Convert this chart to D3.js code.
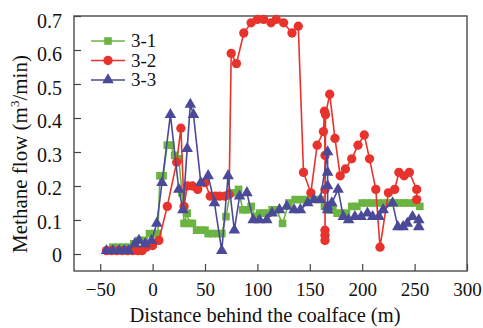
<!DOCTYPE html>
<html>
<head>
<meta charset="utf-8">
<script src="https://cdn.jsdelivr.net/npm/d3@7"></script>
<style>
  body { margin: 0; background: #fff; }
  svg, svg text { font-family: "Liberation Serif", "DejaVu Serif", serif; }
</style>
</head>
<body>
<div id="chart"></div>
<script>
// series: [distance (m), methane flow (m3/min)]
const s31 = [[-42,0.01],[-38,0.02],[-33,0.02],[-28,0.02],[-23,0.02],[-18,0.03],[-13,0.04],[-8,0.04],[-3,0.06],[2,0.06],[5,0.06],
  [7,0.23],[10,0.23],[14,0.32],[17,0.32],[21,0.29],[25,0.28],[28,0.18],[30,0.09],[33,0.12],[35,0.09],[38,0.09],[42,0.07],[46,0.07],
  [50,0.07],[53,0.06],[57,0.06],[62,0.06],[66,0.06],[70,0.11],[74,0.18],[78,0.18],[82,0.19],[86,0.13],[90,0.13],[94,0.14],[98,0.11],
  [102,0.12],[106,0.12],[110,0.12],[114,0.13],[118,0.13],[124,0.09],[130,0.15],[136,0.16],[142,0.16],[148,0.16],[154,0.16],[160,0.16],
  [164,0.14],[168,0.13],[172,0.13],[176,0.12],[180,0.12],[185,0.12],[190,0.14],[195,0.14],[200,0.15],[205,0.15],[210,0.15],[215,0.15],
  [220,0.15],[225,0.15],[230,0.15],[235,0.15],[240,0.15],[245,0.15],[250,0.15],[255,0.14]];
const s32 = [[-44,0.01],[-39,0.01],[-34,0.01],[-29,0.01],[-24,0.01],[-19,0.01],[-14,0.01],[-10,0.01],[-6,0.02],[0,0.025],[6,0.04],
  [14,0.14],[23,0.27],[27,0.37],[30,0.14],[33,0.20],[38,0.20],[43,0.19],[50,0.21],[55,0.17],[60,0.17],[64,0.17],[69,0.17],[73,0.175],
  [75,0.59],[80,0.56],[87,0.65],[94,0.68],[100,0.69],[106,0.69],[113,0.68],[118,0.69],[125,0.68],[133,0.65],[139,0.67],
  [144,0.24],[151,0.18],[157,0.32],[163,0.36],[164,0.42],[164.5,0.29],[164.5,0.19],[164.5,0.07],[164.5,0.055],[164.5,0.04],[165,0.41],
  [169,0.47],[174,0.34],[179,0.23],[184,0.25],[190,0.28],[196,0.32],[202,0.35],[207,0.28],[213,0.19],[217,0.02],[225,0.18],[231,0.19],
  [235,0.24],[240,0.23],[245,0.24],[252,0.19],[252,0.16]];
const s33 = [[-44,0.01],[-38,0.01],[-32,0.01],[-27,0.01],[-23,0.01],[-17,0.03],[-13,0.04],[-7,0.03],[-1,0.04],[4,0.09],[9,0.21],
  [17,0.41],[25,0.19],[29,0.13],[33,0.31],[36,0.44],[39,0.41],[46,0.21],[53,0.23],[59,0.15],[66,0.01],[72,0.23],[78,0.07],[83,0.17],
  [90,0.18],[96,0.10],[102,0.10],[109,0.10],[114,0.12],[121,0.13],[128,0.14],[135,0.13],[141,0.13],[148,0.15],[154,0.16],[160,0.16],
  [167,0.30],[167,0.24],[167,0.20],[167,0.14],[167,0.13],[171,0.15],[177,0.19],[182,0.11],[187,0.10],[193,0.11],[199,0.11],[205,0.12],
  [210,0.11],[216,0.11],[220,0.13],[229,0.15],[234,0.08],[239,0.08],[243,0.09],[248,0.11],[254,0.10],[254,0.08]];

const seriesNames = ["3-1", "3-2", "3-3"];
const seriesColors = ["#6cb442", "#e8332c", "#4a4a98"];
const seriesShapes = [d3.symbolSquare, d3.symbolCircle, d3.symbolTriangle];
const xTicks = [-50, 0, 50, 100, 150, 200, 250, 300];
const yTicks = [0, 0.1, 0.2, 0.3, 0.4, 0.5, 0.6, 0.7];

const W = 483, H = 328;
const margin = {left: 74, top: 16, right: 16, bottom: 57};
const iw = W - margin.left - margin.right, ih = H - margin.top - margin.bottom;
const FONT = "Liberation Serif";

const svg = d3.select("#chart").append("svg").attr("width", W).attr("height", H)
  .attr("font-family", FONT);
const g = svg.append("g").attr("transform", "translate(" + margin.left + "," + margin.top + ")");

const x = d3.scaleLinear().domain([-75, 300]).range([0, iw]);
const y = d3.scaleLinear().domain([-0.05, 0.7]).range([ih, 0]);

const fmtX = d => d < 0 ? "\u2212" + Math.abs(d) : d;

const xAxis = g.append("g").attr("transform", "translate(0," + ih + ")")
  .call(d3.axisBottom(x).tickValues(xTicks).tickSize(-7).tickPadding(12).tickFormat(fmtX));
const yAxis = g.append("g")
  .call(d3.axisLeft(y).tickValues(yTicks).tickSize(-7).tickPadding(12).tickFormat(d => d === 0 ? "0" : d3.format(".1f")(d)));
[xAxis, yAxis].forEach(a => {
  a.attr("font-family", FONT);
  a.select(".domain").remove();
  a.selectAll("line").attr("stroke", "#444").attr("stroke-width", 1.2);
  a.selectAll("text").attr("fill", "#111");
});
xAxis.attr("font-size", 19).selectAll("text").attr("font-size", 19);
yAxis.attr("font-size", 20).selectAll("text").attr("font-size", 20);
// reference draws the y labels a touch low
yAxis.selectAll("text").attr("dy", d => (3 + d * 5) + "px").attr("dominant-baseline", "middle");

g.append("rect").attr("width", iw).attr("height", ih)
  .attr("fill", "none").attr("stroke", "#4a4a4a").attr("stroke-width", 1.4);

const line = d3.line().x(d => x(d[0])).y(d => y(d[1]));
const allSeries = [s31, s32, s33];
const sizes = [58, 68, 58];

allSeries.forEach((data, i) => {
  g.append("path").datum(data).attr("d", line)
    .attr("fill", "none").attr("stroke", seriesColors[i]).attr("stroke-width", 1.6);
  g.selectAll(".m" + i).data(data).enter().append("path")
    .attr("transform", d => "translate(" + x(d[0]) + "," + y(d[1]) + ")")
    .attr("d", d3.symbol().type(seriesShapes[i]).size(sizes[i]))
    .attr("fill", seriesColors[i]);
});

// legend
const leg = svg.append("g");
seriesNames.forEach((name, i) => {
  const ly = 41 + i * 19.5;
  leg.append("line").attr("x1", 91).attr("x2", 125).attr("y1", ly).attr("y2", ly)
    .attr("stroke", seriesColors[i]).attr("stroke-width", 1.6);
  leg.append("path").attr("transform", "translate(108," + ly + ")")
    .attr("d", d3.symbol().type(seriesShapes[i]).size(sizes[i])).attr("fill", seriesColors[i]);
  leg.append("text").attr("x", 131).attr("y", ly + 6).attr("font-size", 19)
    .attr("font-family", FONT).attr("fill", "#111").text(name);
});

// axis titles
svg.append("text").attr("x", 265).attr("y", 322)
  .attr("text-anchor", "middle").attr("font-size", 20.5).attr("font-family", FONT).attr("fill", "#111")
  .text("Distance behind the coalface (m)");

const yt = svg.append("text").attr("transform", "translate(27,154) rotate(-90)")
  .attr("text-anchor", "middle").attr("font-size", 21).attr("font-family", FONT).attr("fill", "#111");
yt.append("tspan").text("Methane flow (m");
yt.append("tspan").attr("font-size", 13).attr("dy", -8).text("3");
yt.append("tspan").attr("dy", 8).text("/min)");
</script>
</body>
</html>
